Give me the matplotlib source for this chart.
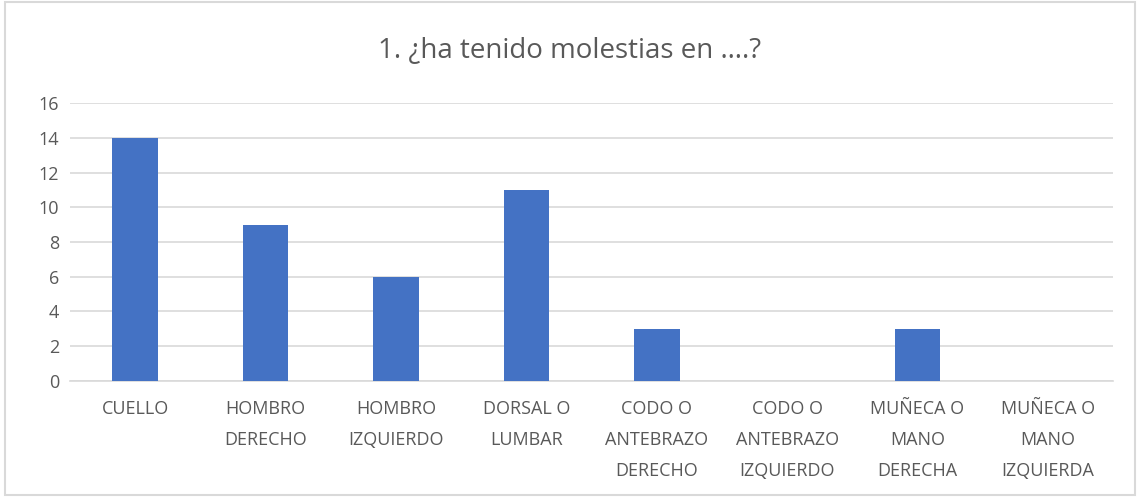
import matplotlib.pyplot as plt
from matplotlib.patches import Rectangle

categories = ['CUELLO', 'HOMBRO\nDERECHO', 'HOMBRO\nIZQUIERDO', 'DORSAL O\nLUMBAR',
              'CODO O\nANTEBRAZO\nDERECHO', 'CODO O\nANTEBRAZO\nIZQUIERDO',
              'MUÑECA O\nMANO\nDERECHA', 'MUÑECA O\nMANO\nIZQUIERDA']
values = [14, 9, 6, 11, 3, 0, 3, 0]
yticks = [0, 2, 4, 6, 8, 10, 12, 14, 16]

plt.rcParams['font.family'] = ['Open Sans', 'DejaVu Sans']
text_color = '#595959'
grid_color = '#D9D9D9'

fig = plt.figure(figsize=(11.4, 4.98), dpi=100)
ax = fig.add_axes([0.0614, 0.235, 0.915, 0.558])

x = range(len(categories))
ax.bar(x, values, width=0.35, color='#4472C4', zorder=3)

ax.set_xlim(-0.5, len(categories) - 0.5)
ax.set_ylim(0, 16)
ax.set_yticks(yticks)
ax.set_xticks(list(x))
ax.set_xticklabels(categories, fontsize=13, color=text_color, linespacing=1.9, va='top')
ax.tick_params(axis='y', labelsize=13, labelcolor=text_color, length=0, pad=8)
ax.tick_params(axis='x', length=0, pad=14)

ax.grid(axis='y', color=grid_color, linewidth=1.2, zorder=0)
for s in ['top', 'right', 'left']:
    ax.spines[s].set_visible(False)
ax.spines['bottom'].set_color(grid_color)
ax.spines['bottom'].set_linewidth(1.2)

fig.text(0.5, 0.90, '1. ¿ha tenido molestias en ….?', ha='center', va='center',
         fontsize=20, color=text_color)

# thin frame round the chart
fig.patches.append(Rectangle((0.004, 0.006), 0.992, 0.99, transform=fig.transFigure,
                             fill=False, edgecolor='#D9D9D9', linewidth=1.5))

plt.savefig('out.png', dpi=100)
